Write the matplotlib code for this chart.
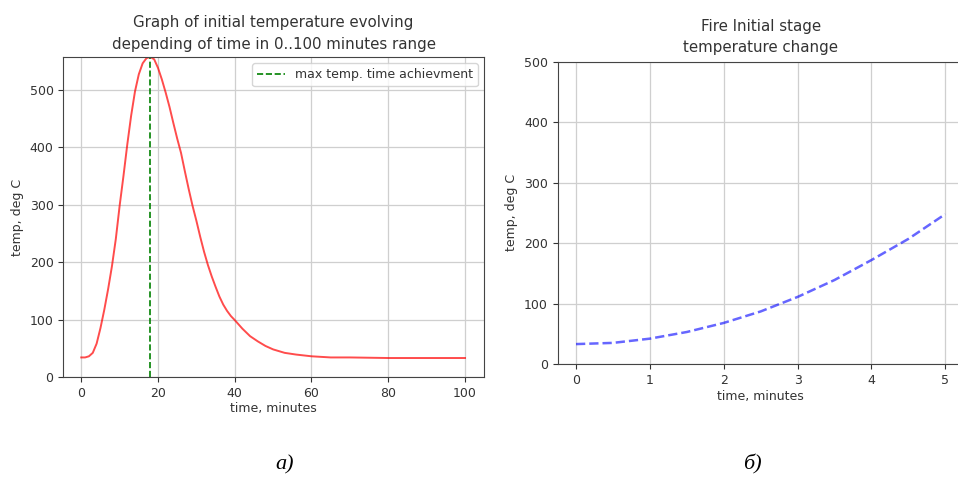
import matplotlib.pyplot as plt

# left chart: full fire curve, 0..100 minutes
time_full = [0, 1, 2, 3, 4, 5, 6, 7, 8, 9, 10, 11, 12, 13, 14, 15, 16, 17, 18,
             19, 20, 21, 22, 23, 24, 25, 26, 27, 28, 29, 30, 31, 32, 33, 34, 35,
             36, 37, 38, 39, 40, 42, 44, 46, 48, 50, 53, 56, 60, 65, 70, 80, 90, 100]
temp_full = [34, 34, 36, 42, 58, 85, 117, 153, 193, 240, 298, 350, 405, 455, 497,
             527, 546, 555, 557, 553, 538, 518, 495, 470, 442, 415, 390, 358, 327,
             298, 272, 244, 218, 195, 175, 157, 140, 126, 115, 106, 99, 84, 71, 62,
             54, 48, 42, 39, 36, 34, 34, 33, 33, 33]
t_max = 18

# right chart: initial stage, 0..5 minutes
time_init = [0, 0.5, 1, 1.5, 2, 2.5, 3, 3.5, 4, 4.5, 5]
temp_init = [33, 35, 42, 53, 68, 87, 111, 139, 172, 207, 248]

x_ticks_full = [0, 20, 40, 60, 80, 100]
y_ticks_full = [0, 100, 200, 300, 400, 500]
x_ticks_init = [0, 1, 2, 3, 4, 5]
y_ticks_init = [0, 100, 200, 300, 400, 500]

plt.rcParams['font.family'] = 'DejaVu Sans'
plt.rcParams['text.color'] = '#333333'
plt.rcParams['axes.labelcolor'] = '#333333'
plt.rcParams['xtick.color'] = '#333333'
plt.rcParams['ytick.color'] = '#333333'

fig = plt.figure(figsize=(9.58, 4.79), dpi=100)

ax1 = fig.add_axes([0.066, 0.213, 0.439, 0.668])
ax1.plot(time_full, temp_full, color='red', alpha=0.7, lw=1.4)
ax1.axvline(t_max, color='green', ls='--', lw=1.2, label='max temp. time achievment')
ax1.set_xlim(-4.7, 104.9)
ax1.set_ylim(0, 557)
ax1.set_xticks(x_ticks_full)
ax1.set_yticks(y_ticks_full)
ax1.grid(color='#cfcfcf', lw=0.9)
ax1.set_title('Graph of initial temperature evolving\ndepending of time in 0..100 minutes range',
              fontsize=10.8, pad=6, linespacing=1.55)
ax1.set_xlabel('time, minutes', fontsize=9, labelpad=2)
ax1.set_ylabel('temp, deg C', fontsize=9)
ax1.tick_params(labelsize=9)
ax1.legend(loc='upper right', fontsize=9, handlelength=2.2)

ax2 = fig.add_axes([0.582, 0.240, 0.424, 0.631])
ax2.plot(time_init, temp_init, color='blue', ls='--', alpha=0.6, lw=1.8)
ax2.set_xlim(-0.25, 5.25)
ax2.set_ylim(0, 500)
ax2.set_xticks(x_ticks_init)
ax2.set_yticks(y_ticks_init)
ax2.grid(color='#cfcfcf', lw=0.9)
ax2.set_title('Fire Initial stage\ntemperature change', fontsize=10.8, pad=7, linespacing=1.5)
ax2.set_xlabel('time, minutes', fontsize=9, labelpad=2)
ax2.set_ylabel('temp, deg C', fontsize=9)
ax2.tick_params(labelsize=9)

for ax in (ax1, ax2):
    for sp in ax.spines.values():
        sp.set_color('#444444')

fig.text(0.297, 0.02, 'а)', fontsize=16, family='Liberation Serif', style='italic',
         color='black', ha='center')
fig.text(0.785, 0.02, 'б)', fontsize=16, family='Liberation Serif', style='italic',
         color='black', ha='center')

fig.savefig('out.png', dpi=100)
